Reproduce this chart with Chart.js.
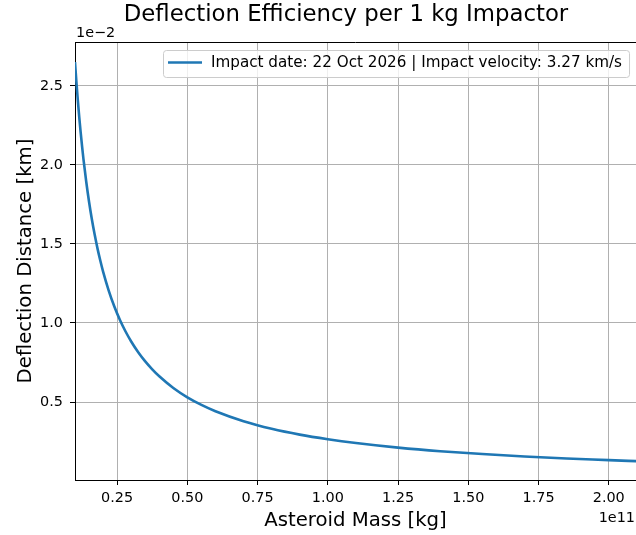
<!DOCTYPE html>
<html>
<head>
<meta charset="utf-8">
<script src="https://cdn.jsdelivr.net/npm/chart.js@4.4.1/dist/chart.umd.min.js"></script>
<style>
  html, body { margin: 0; padding: 0; background: #fff; overflow: hidden; }
</style>
</head>
<body>
<canvas id="chart" width="636" height="535"></canvas>
<script>
// asteroid mass, in units of 1e11 kg (axis offset "1e11")
const massE11 = [0.100, 0.105, 0.110, 0.115, 0.120, 0.125, 0.130, 0.140, 0.150, 0.160,
  0.170, 0.180, 0.190, 0.200, 0.220, 0.240, 0.260, 0.280, 0.300, 0.325,
  0.350, 0.375, 0.400, 0.450, 0.500, 0.550, 0.600, 0.700, 0.800, 0.900,
  1.000, 1.100, 1.250, 1.400, 1.550, 1.700, 1.850, 2.000, 2.100];
// deflection distance per 1 kg impactor, in units of 1e-2 km (axis offset "1e-2")
const deflectionE2 = [2.650, 2.524, 2.409, 2.304, 2.208, 2.120, 2.038, 1.893, 1.767, 1.656,
  1.559, 1.472, 1.395, 1.325, 1.205, 1.104, 1.019, 0.946, 0.883, 0.815,
  0.757, 0.707, 0.663, 0.589, 0.530, 0.482, 0.442, 0.379, 0.331, 0.294,
  0.265, 0.241, 0.212, 0.189, 0.171, 0.156, 0.143, 0.133, 0.126];

const xTickValues = [0.25, 0.50, 0.75, 1.00, 1.25, 1.50, 1.75, 2.00];
const yTickValues = [0.5, 1.0, 1.5, 2.0, 2.5];

const TITLE = 'Deflection Efficiency per 1 kg Impactor';
const SERIES_LABEL = 'Impact date: 22 Oct 2026 | Impact velocity: 3.27 km/s';
const X_TITLE = 'Asteroid Mass [kg]';
const Y_TITLE = 'Deflection Distance [km]';
const X_OFFSET = '1e11';
const Y_OFFSET = '1e\u22122';

const FONT = 'DejaVu Sans';
const BLUE = '#1f77b4';
const GRID = '#b0b0b0';

// title, offset texts, top spine and the framed legend, matplotlib style
const decorations = {
  id: 'decorations',
  afterDraw(chart) {
    const { ctx, chartArea: a } = chart;
    ctx.save();
    // top spine
    ctx.strokeStyle = '#000';
    ctx.lineWidth = 1;
    ctx.beginPath();
    ctx.moveTo(a.left, a.top + 0.5);
    ctx.lineTo(a.right, a.top + 0.5);
    ctx.stroke();

    ctx.fillStyle = '#000';
    ctx.font = '22.8px "' + FONT + '"';
    ctx.textAlign = 'center';
    ctx.textBaseline = 'alphabetic';
    ctx.fillText(TITLE, 346, 21);

    ctx.font = '14.4px "' + FONT + '"';
    ctx.textAlign = 'left';
    ctx.fillText(Y_OFFSET, a.left + 1, a.top - 5);
    ctx.textAlign = 'right';
    ctx.fillText(X_OFFSET, a.right - 1, 522);

    // legend
    const ds = chart.data.datasets[0];
    ctx.font = '15.2px "' + FONT + '"';
    const tw = ctx.measureText(ds.label).width;
    const w = 5 + 34 + 9 + tw + 7;
    const h = 27;
    const x0 = Math.round(a.right - 7 - w);
    const y0 = a.top + 8;
    ctx.beginPath();
    ctx.roundRect(x0 + 0.5, y0 + 0.5, w, h, 3);
    ctx.fillStyle = 'rgba(255,255,255,0.8)';
    ctx.fill();
    ctx.strokeStyle = '#cccccc';
    ctx.lineWidth = 1;
    ctx.stroke();
    ctx.beginPath();
    ctx.strokeStyle = ds.borderColor;
    ctx.lineWidth = ds.borderWidth;
    ctx.moveTo(x0 + 5, y0 + 12.5);
    ctx.lineTo(x0 + 39, y0 + 12.5);
    ctx.stroke();
    ctx.fillStyle = '#000';
    ctx.textAlign = 'left';
    ctx.textBaseline = 'middle';
    ctx.fillText(ds.label, x0 + 48, y0 + 13.5);
    ctx.restore();
  }
};

new Chart(document.getElementById('chart'), {
  type: 'line',
  data: {
    datasets: [{
      label: SERIES_LABEL,
      data: massE11.map((m, i) => ({ x: m, y: deflectionE2[i] })),
      borderColor: BLUE,
      backgroundColor: BLUE,
      borderWidth: 2.6,
      pointRadius: 0,
      fill: false,
      cubicInterpolationMode: 'monotone'
    }]
  },
  options: {
    responsive: false,
    animation: false,
    devicePixelRatio: 1,
    layout: { padding: { top: 42, right: 0, bottom: 0, left: 0 } },
    plugins: {
      legend: { display: false },
      title: { display: false },
      tooltip: { enabled: false }
    },
    scales: {
      x: {
        type: 'linear', min: 0.1, max: 2.097,
        afterFit: s => { s.height = 55; },
        afterBuildTicks: s => { s.ticks = xTickValues.map(v => ({ value: v })); },
        ticks: { autoSkip: false, maxRotation: 0, padding: 5, color: '#000',
          font: { family: FONT, size: 14.4 }, callback: v => v.toFixed(2) },
        grid: { color: GRID, lineWidth: 1, tickColor: '#000', tickLength: 5, tickWidth: 1 },
        border: { color: '#000', width: 1 },
        title: { display: true, text: X_TITLE, color: '#000',
          font: { family: FONT, size: 19.7 }, padding: { top: 0, bottom: 2 } }
      },
      y: {
        type: 'linear', min: 0.007, max: 2.777,
        afterFit: s => { s.width = 75; },
        afterBuildTicks: s => { s.ticks = yTickValues.map(v => ({ value: v })); },
        ticks: { padding: 7, color: '#000', font: { family: FONT, size: 14.4 },
          callback: v => v.toFixed(1) },
        grid: { color: GRID, lineWidth: 1, tickColor: '#000', tickLength: 5, tickWidth: 1 },
        border: { color: '#000', width: 1 },
        title: { display: true, text: Y_TITLE, color: '#000',
          font: { family: FONT, size: 19.7 }, padding: { top: 14, bottom: 0 } }
      }
    }
  },
  plugins: [decorations]
});
</script>
</body>
</html>
